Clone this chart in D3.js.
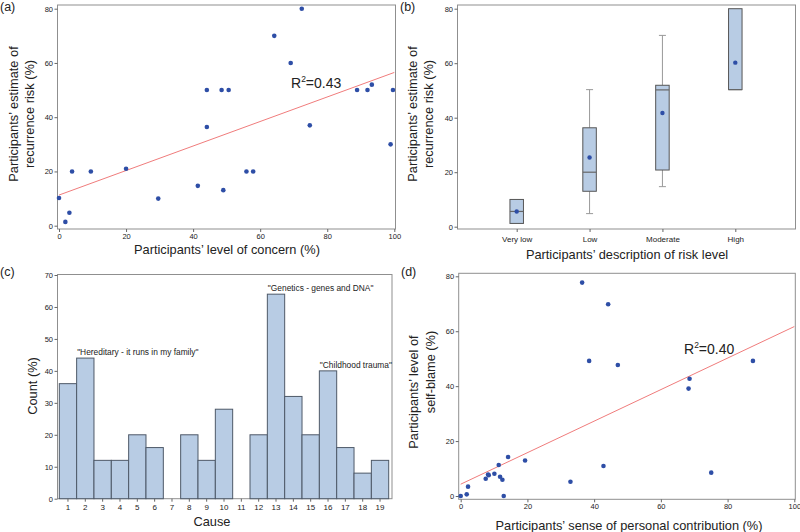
<!DOCTYPE html>
<html><head><meta charset="utf-8">
<script src="https://cdn.jsdelivr.net/npm/d3@7"></script>
<style>body{margin:0;background:#fff}svg{display:block;font-family:"Liberation Sans",Arial,sans-serif}</style>
</head><body><svg id="c" width="800" height="532"></svg>
<script>
// Panel (a)
const concernX = [0,1.9,3.1,3.9,9.5,20,29.6,41.4,44.1,44.1,48.5,49,50.6,55.9,57.9,64.2,69.1,72.4,74.8,88.9,92,93.3,99.6,98.9];
const riskY    = [10.2,1.4,4.8,20,20,21,10,14.7,50,36.4,50,13.1,50,20,20,70,60,80,37,50,50,52,50,30];
const fitA = {intercept:11.3, slope:0.452, r2:"0.43"};
// Panel (b)
const riskCats = ["Very low","Low","Moderate","High"];
const boxStats = [
  {q1:1.2, med:5.6, q3:10, lo:null, hi:null, mean:5.6},
  {q1:13, med:20, q3:36.3, lo:4.8, hi:50.3, mean:25.4},
  {q1:20.8, med:50.2, q3:51.9, lo:14.7, hi:70.2, mean:41.7},
  {q1:50.3, med:50.3, q3:80, lo:null, hi:null, mean:60.2}
];
// Panel (c)
const causes = d3.range(1,20);
const causeCounts = [36,44,12,12,20,16,0,20,12,28,0,20,64,32,20,40,16,8,12];
const causeNotes = [{cause:2, text:"\"Hereditary - it runs in my family\""},{cause:13, text:"\"Genetics - genes and DNA\""},{cause:16, text:"\"Childhood trauma\""}];
// Panel (d)
const contribX = [0,1.8,2.2,7.5,8.2,8.4,10.1,11.4,11.8,12.5,12.9,14.2,19.3,32.9,36.4,38.5,42.8,44.2,47.1,68.3,68.6,75.1,87.6];
const blameY   = [0,0.6,3.4,6.3,7.8,7.6,8.1,11.3,7.0,5.9,0,14.2,12.9,5.2,77.7,49.2,10.9,69.8,47.7,39.1,42.7,8.5,49.2];
const fitD = {intercept:4.3, slope:0.574, r2:"0.40"};

const svg = d3.select("#c");
const FRAME="#8f8f8f", TXT="#222", DOT="#2e4ea6", FIT="#f07c7c", FILL="#b8cce4";
const FONT="Liberation Sans, Arial, sans-serif";
const TICKFS=7.5, TITLEFS=12.8;

function frame(g,l,t,r,b){g.append("rect").attr("x",l).attr("y",t).attr("width",r-l).attr("height",b-t).attr("fill","none").attr("stroke",FRAME).attr("stroke-width",1);}
function yAxis(g,y,xpos,ticks){
  const ax=g.append("g").attr("transform",`translate(${xpos},0)`).call(d3.axisLeft(y).tickValues(ticks).tickSize(3).tickPadding(1.5));
  ax.select(".domain").remove();
  ax.selectAll("line").attr("stroke","#666");
  ax.selectAll("text").attr("font-size",TICKFS).attr("fill",TXT).attr("font-family",FONT);
}
function xAxis(g,x,ypos,ticks,pad,fs){
  const a=d3.axisBottom(x).tickSize(3).tickPadding(pad||1.5);
  if(ticks) a.tickValues(ticks);
  const ax=g.append("g").attr("transform",`translate(0,${ypos})`).call(a);
  ax.select(".domain").remove();
  ax.selectAll("line").attr("stroke","#666");
  ax.selectAll("text").attr("font-size",fs||TICKFS).attr("fill",TXT).attr("font-family",FONT);
}
function title(g,x,y,txt,rot){
  const t=g.append("text").attr("font-size",TITLEFS).attr("fill",TXT).attr("text-anchor","middle").attr("font-family",FONT);
  if(rot){t.attr("transform",`translate(${x},${y}) rotate(-90)`);} else {t.attr("x",x).attr("y",y);}
  t.text(txt);
}
function r2label(g,x,y,v){
  const t=g.append("text").attr("x",x).attr("y",y).attr("font-size",14).attr("fill",TXT).attr("font-family",FONT);
  t.append("tspan").text("R");
  t.append("tspan").attr("font-size",8.5).attr("dy",-6).text("2");
  t.append("tspan").attr("dy",6).text("="+v);
}
function panelLabel(x,y,t){svg.append("text").attr("x",x).attr("y",y).attr("font-size",12.5).attr("fill",TXT).attr("font-family",FONT).text(t);}

// ---- (a)
{
  const g=svg.append("g");
  const x=d3.scaleLinear().domain([0,100]).range([59,394.3]);
  const y=d3.scaleLinear().domain([0,80]).range([225.7,8.7]);
  frame(g,57.5,5,395.5,229);
  yAxis(g,y,57.5,[0,20,40,60,80]);
  xAxis(g,x,229,[0,20,40,60,80,100]);
  g.append("line").attr("x1",x(0)).attr("x2",x(100)).attr("y1",y(fitA.intercept)).attr("y2",y(fitA.intercept+100*fitA.slope)).attr("stroke",FIT).attr("stroke-width",1);
  g.selectAll("circle").data(concernX).join("circle").attr("cx",d=>x(d)).attr("cy",(d,i)=>y(riskY[i])).attr("r",2.3).attr("fill",DOT);
  r2label(g,291,88,fitA.r2);
  title(g,227,253.5,"Participants’ level of concern (%)");
  title(g,18,114,"Participants’ estimate of",true);
  title(g,34,114,"recurrence risk (%)",true);
  panelLabel(0,11,"(a)");
}
// ---- (b)
{
  const g=svg.append("g");
  const x=d3.scalePoint().domain(riskCats).range([516.7,735.3]);
  const y=d3.scaleLinear().domain([0,80]).range([226.7,8.7]);
  frame(g,457.5,5,795.5,229);
  yAxis(g,y,457.5,[0,20,40,60,80]);
  xAxis(g,x,229,null,4,8);
  const bw=13.5, cap=7;
  riskCats.forEach((c,i)=>{
    const s=boxStats[i], cx=x(c);
    if(s.hi!=null){
      g.append("line").attr("x1",cx).attr("x2",cx).attr("y1",y(s.q3)).attr("y2",y(s.hi)).attr("stroke","#999");
      g.append("line").attr("x1",cx-cap/2).attr("x2",cx+cap/2).attr("y1",y(s.hi)).attr("y2",y(s.hi)).attr("stroke","#999");
    }
    if(s.lo!=null){
      g.append("line").attr("x1",cx).attr("x2",cx).attr("y1",y(s.q1)).attr("y2",y(s.lo)).attr("stroke","#999");
      g.append("line").attr("x1",cx-cap/2).attr("x2",cx+cap/2).attr("y1",y(s.lo)).attr("y2",y(s.lo)).attr("stroke","#999");
    }
    g.append("rect").attr("x",cx-bw/2).attr("width",bw).attr("y",y(s.q3)).attr("height",y(s.q1)-y(s.q3)).attr("fill",FILL).attr("stroke","#555").attr("stroke-width",1);
    g.append("line").attr("x1",cx-bw/2).attr("x2",cx+bw/2).attr("y1",y(s.med)).attr("y2",y(s.med)).attr("stroke","#666").attr("stroke-width",1.2);
    g.append("circle").attr("cx",cx).attr("cy",y(s.mean)).attr("r",2.2).attr("fill",DOT);
  });
  title(g,627,259,"Participants’ description of risk level");
  title(g,417,114,"Participants’ estimate of",true);
  title(g,433,114,"recurrence risk (%)",true);
  panelLabel(400,11,"(b)");
}
// ---- (c)
{
  const g=svg.append("g");
  const x=d3.scaleBand().domain(causes).range([59.3,388.7]).padding(0);
  const y=d3.scaleLinear().domain([0,70]).range([498.7,275]);
  frame(g,57.5,274.5,392,498.7);
  yAxis(g,y,57.5,d3.range(0,71,10));
  g.selectAll("rect.bar").data(causes).join("rect").attr("class","bar")
    .attr("x",d=>x(d)).attr("width",x.bandwidth()).attr("y",(d,i)=>y(causeCounts[i])).attr("height",(d,i)=>y(0)-y(causeCounts[i]))
    .attr("fill",FILL).attr("stroke",(d,i)=>causeCounts[i]>0?"#4e5968":"none").attr("stroke-width",1);
  xAxis(g,x,498.7,null,2.5,8);
  causeNotes.forEach(n=>{
    const i=causes.indexOf(n.cause);
    g.append("text").attr("x",x(n.cause)+0.5).attr("y",y(causeCounts[i])-3).attr("font-size",8.4).attr("fill",TXT).attr("font-family",FONT)
      .attr("text-anchor","start").text(n.text);
  });
  title(g,212,526,"Cause");
  title(g,37,386,"Count (%)",true);
  panelLabel(0,276,"(c)");
}
// ---- (d)
{
  const g=svg.append("g");
  const x=d3.scaleLinear().domain([0,100]).range([460.7,794.3]);
  const y=d3.scaleLinear().domain([0,80]).range([496,276.3]);
  frame(g,458.7,273.3,795.3,499.3);
  yAxis(g,y,458.7,[0,20,40,60,80]);
  xAxis(g,x,499.3,[0,20,40,60,80,100]);
  g.append("line").attr("x1",x(0)).attr("x2",x(100)).attr("y1",y(fitD.intercept)).attr("y2",y(fitD.intercept+100*fitD.slope)).attr("stroke",FIT).attr("stroke-width",1);
  g.selectAll("circle").data(contribX).join("circle").attr("cx",d=>x(d)).attr("cy",(d,i)=>y(blameY[i])).attr("r",2.3).attr("fill",DOT);
  r2label(g,684,354,fitD.r2);
  title(g,629,530,"Participants’ sense of personal contribution (%)");
  title(g,418,392,"Participants’ level of",true);
  title(g,435,372,"self-blame (%)",true);
  panelLabel(401,276,"(d)");
}
</script></body></html>
